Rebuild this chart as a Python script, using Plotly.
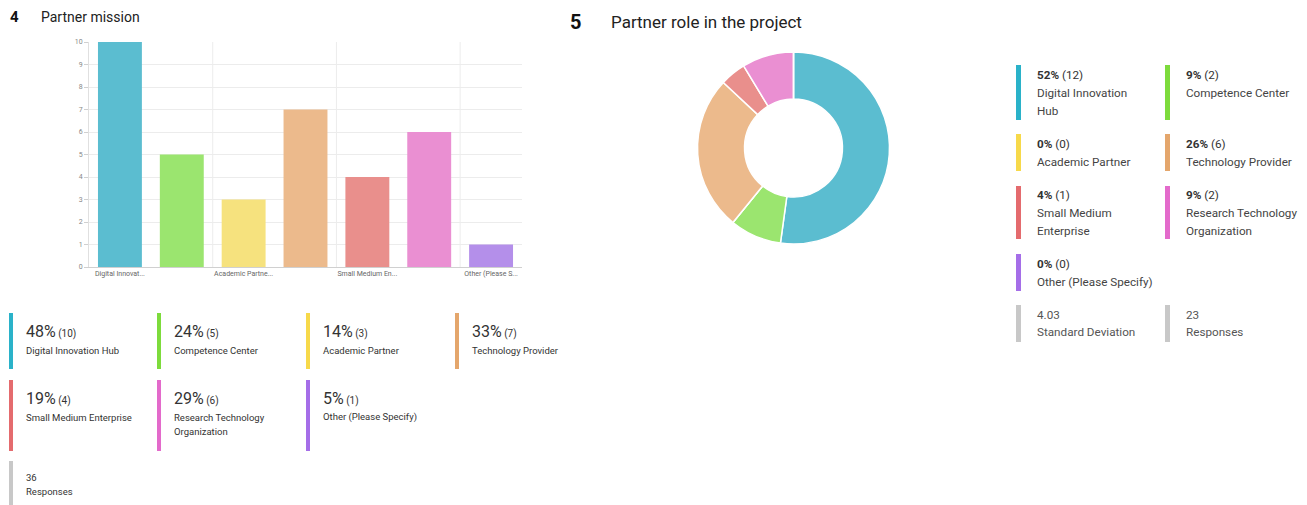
import plotly.graph_objects as go

W, H = 1307, 505

# ---------------- data ----------------
categories = ["Digital Innovation Hub", "Competence Center", "Academic Partner",
              "Technology Provider", "Small Medium Enterprise",
              "Research Technology Organization", "Other (Please Specify)"]
short_ticks = ["Digital Innovat...", "", "Academic Partne...", "", "Small Medium En...", "", "Other (Please S..."]
mission_counts = [10, 5, 3, 7, 4, 6, 1]
mission_pct = [48, 24, 14, 33, 19, 29, 5]
mission_responses = 36

role_counts = [12, 2, 0, 6, 1, 2, 0]
role_pct = [52, 9, 0, 26, 4, 9, 0]
role_std = 4.03
role_responses = 23

y_ticks = list(range(0, 11))

# ---------------- styles ----------------
fill_colors = ["#5bbdd0", "#9be56f", "#f6e27e", "#ecba8c", "#e98f8c", "#ea8fd2", "#b48fea"]
key_colors = ["#2ab2c9", "#7ddb3c", "#f7d94a", "#e4a66c", "#e46b6e", "#e36acb", "#a56ee8"]
grey = "#c8c8c8"
text_col = "#333333"
FONT = "Roboto"


def px(x):
    return x / W


def py(y):
    return 1 - y / H


fig = go.Figure()

fig.add_trace(go.Bar(
    x=categories, y=mission_counts,
    marker=dict(color=fill_colors, line=dict(width=0)),
    hoverinfo="x+y", showlegend=False,
))

fig.add_trace(go.Pie(
    labels=categories, values=role_counts, hole=0.51, sort=False,
    direction="clockwise", rotation=0,
    marker=dict(colors=fill_colors, line=dict(color="white", width=1.5)),
    textinfo="none", showlegend=False,
    domain=dict(x=[px(697), px(890)], y=[py(244), py(52)]),
))

fig.update_layout(
    width=W, height=H,
    margin=dict(l=0, r=0, t=0, b=0),
    paper_bgcolor="white", plot_bgcolor="white",
    font=dict(family=FONT, color=text_col),
    bargap=0.29,
    xaxis=dict(
        domain=[px(89), px(522)],
        type="category",
        tickmode="array", tickvals=categories, ticktext=short_ticks,
        tickson="boundaries", showgrid=False,
        tickfont=dict(size=7, color="#666666"),
        showline=True, linecolor="#d0d0d0", linewidth=1,
        ticks="", fixedrange=True, automargin=False,
    ),
    yaxis=dict(
        domain=[py(267), py(42)],
        range=[0, 10], tickvals=y_ticks,
        tickfont=dict(size=7, color="#888888"),
        gridcolor="#ececec", gridwidth=1,
        showline=True, linecolor="#e0e0e0",
        ticks="outside", ticklen=4, tickcolor="#d0d0d0",
        zeroline=False, fixedrange=True, automargin=False,
    ),
)

# vertical gridlines between category pairs
shapes = []
for b in [1.5, 3.5, 5.5]:
    shapes.append(dict(type="line", xref="x", yref="paper", x0=b, x1=b,
                       y0=py(267), y1=py(42), line=dict(color="#ececec", width=1),
                       layer="below"))

annotations = []


def text(x, y, s, size, color=text_col):
    annotations.append(dict(xref="paper", yref="paper", x=px(x), y=py(y), text=s,
                            font=dict(size=size, color=color, family=FONT),
                            xanchor="left", yanchor="middle", showarrow=False))


def key_bar(x, y0, y1, color, w=4):
    shapes.append(dict(type="rect", xref="paper", yref="paper",
                       x0=px(x), x1=px(x + w), y0=py(y1), y1=py(y0),
                       fillcolor=color, line=dict(width=0)))


# titles
text(8, 17, "<b>4</b>", 15, "#111")
text(39, 17, "Partner mission", 14, "#222")
text(568, 22, "<b>5</b>", 20, "#111")
text(609, 22, "Partner role in the project", 17, "#222")

# ---- left legend ----
left_cols = [9, 157, 306, 455]
left_rows = [(313, 369, 331, 350), (380, 451, 398, 417)]
left_wrap = {5: ["Research Technology", "Organization"]}
for i, cat in enumerate(categories):
    r, c = divmod(i, 4)
    y0, y1, yp, yl = left_rows[r]
    x = left_cols[c]
    key_bar(x, y0, y1, key_colors[i])
    text(x + 15, yp, f"<span style='font-size:16px'>{mission_pct[i]}%</span>"
                      f"<span style='font-size:10px'> ({mission_counts[i]})</span>", 16)
    lines = left_wrap.get(i, [cat])
    for k, ln in enumerate(lines):
        text(x + 15, yl + 14 * k, ln, 9.5)
key_bar(left_cols[0], 461, 510, grey)
text(left_cols[0] + 15, 477, str(mission_responses), 9.5)
text(left_cols[0] + 15, 491, "Responses", 9.5)

# ---- right legend ----
right_cols = [1016, 1165]
right_rows = [(65, 120, 75), (134, 171, 144), (186, 239, 195), (254, 291, 264)]
right_wrap = {0: ["Digital Innovation", "Hub"], 4: ["Small Medium", "Enterprise"],
              5: ["Research Technology", "Organization"]}
for i, cat in enumerate(categories):
    r, c = divmod(i, 2)
    y0, y1, yp = right_rows[r]
    x = right_cols[c]
    key_bar(x, y0, y1, key_colors[i], w=5)
    text(x + 19, yp, f"<b>{role_pct[i]}%</b> ({role_counts[i]})", 11.7)
    lines = right_wrap.get(i, [cat])
    for k, ln in enumerate(lines):
        text(x + 19, yp + 18 + 18 * k, ln, 11.7, "#444")
for c, (val, lab) in enumerate([(f"{role_std:.2f}", "Standard Deviation"), (str(role_responses), "Responses")]):
    x = right_cols[c]
    key_bar(x, 305, 342, grey, w=5)
    text(x + 19, 315, val, 11.7, "#555")
    text(x + 19, 332, lab, 11.7, "#555")

fig.update_layout(shapes=shapes, annotations=annotations)
fig.write_html("out.html", config={"displayModeBar": False},
               post_script="document.body.style.margin='0';document.body.style.overflow='hidden';")
